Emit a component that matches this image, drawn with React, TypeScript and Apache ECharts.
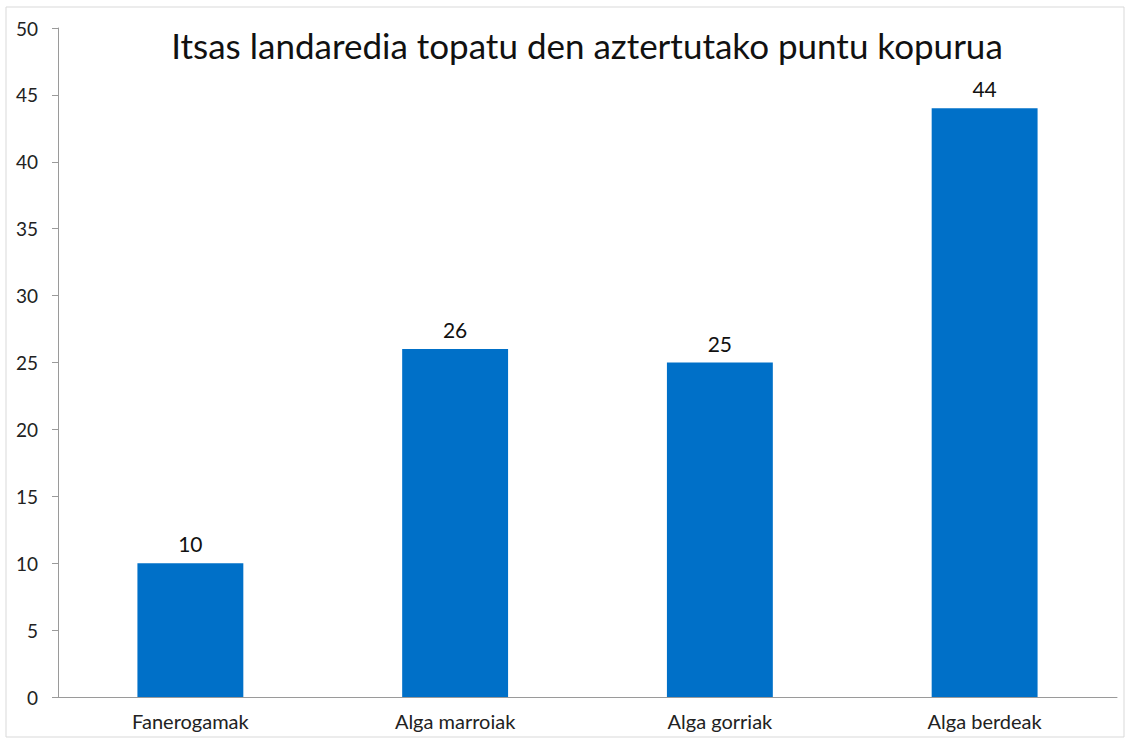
import React, { useEffect, useRef } from "react";
import * as echarts from "echarts";

const categories = ["Fanerogamak", "Alga marroiak", "Alga gorriak", "Alga berdeak"];
const values = [10, 26, 25, 44];
const titleText = "Itsas landaredia topatu den aztertutako puntu kopurua";

export default function App() {
  const ref = useRef<HTMLDivElement>(null);
  useEffect(() => {
    if (!ref.current) return;
    const chart = echarts.init(ref.current, null, { renderer: "svg" });
    const font = "Lato, 'Open Sans', sans-serif";
    chart.setOption({
      animation: false,
      backgroundColor: "#ffffff",
      title: {
        text: titleText,
        left: 582,
        textAlign: "center",
        top: 22,
        textStyle: { fontFamily: font, fontSize: 35, fontWeight: "normal", color: "#111" },
      },
      graphic: [
        {
          type: "rect",
          shape: { x: 6, y: 7, width: 1118, height: 730 },
          style: { fill: "none", stroke: "#d9d9d9", lineWidth: 1 },
          silent: true,
        },
      ],
      grid: { left: 58, right: 12, top: 28, bottom: 45, containLabel: false },
      xAxis: {
        type: "category",
        data: categories,
        axisLine: { show: true, lineStyle: { color: "#9a9a9a", width: 1 } },
        axisTick: { show: false },
        axisLabel: { fontFamily: font, fontSize: 20, color: "#222", margin: 14 },
      },
      yAxis: {
        type: "value",
        min: 0,
        max: 50,
        interval: 5,
        axisLine: { show: true, lineStyle: { color: "#9a9a9a", width: 1 } },
        axisTick: { show: true, length: 6, lineStyle: { color: "#9a9a9a" } },
        splitLine: { show: false },
        axisLabel: { fontFamily: font, fontSize: 19, color: "#222", margin: 20 },
      },
      series: [
        {
          type: "bar",
          data: values,
          barWidth: "40%",
          itemStyle: { color: "#0070C8" },
          label: {
            show: true,
            position: "top",
            distance: 9,
            fontFamily: font,
            fontSize: 21,
            color: "#111",
          },
        },
      ],
    });
    return () => chart.dispose();
  }, []);
  return (
    <div
      ref={ref}
      style={{ position: "absolute", left: 0, top: 0, width: 1129, height: 742 }}
    />
  );
}
